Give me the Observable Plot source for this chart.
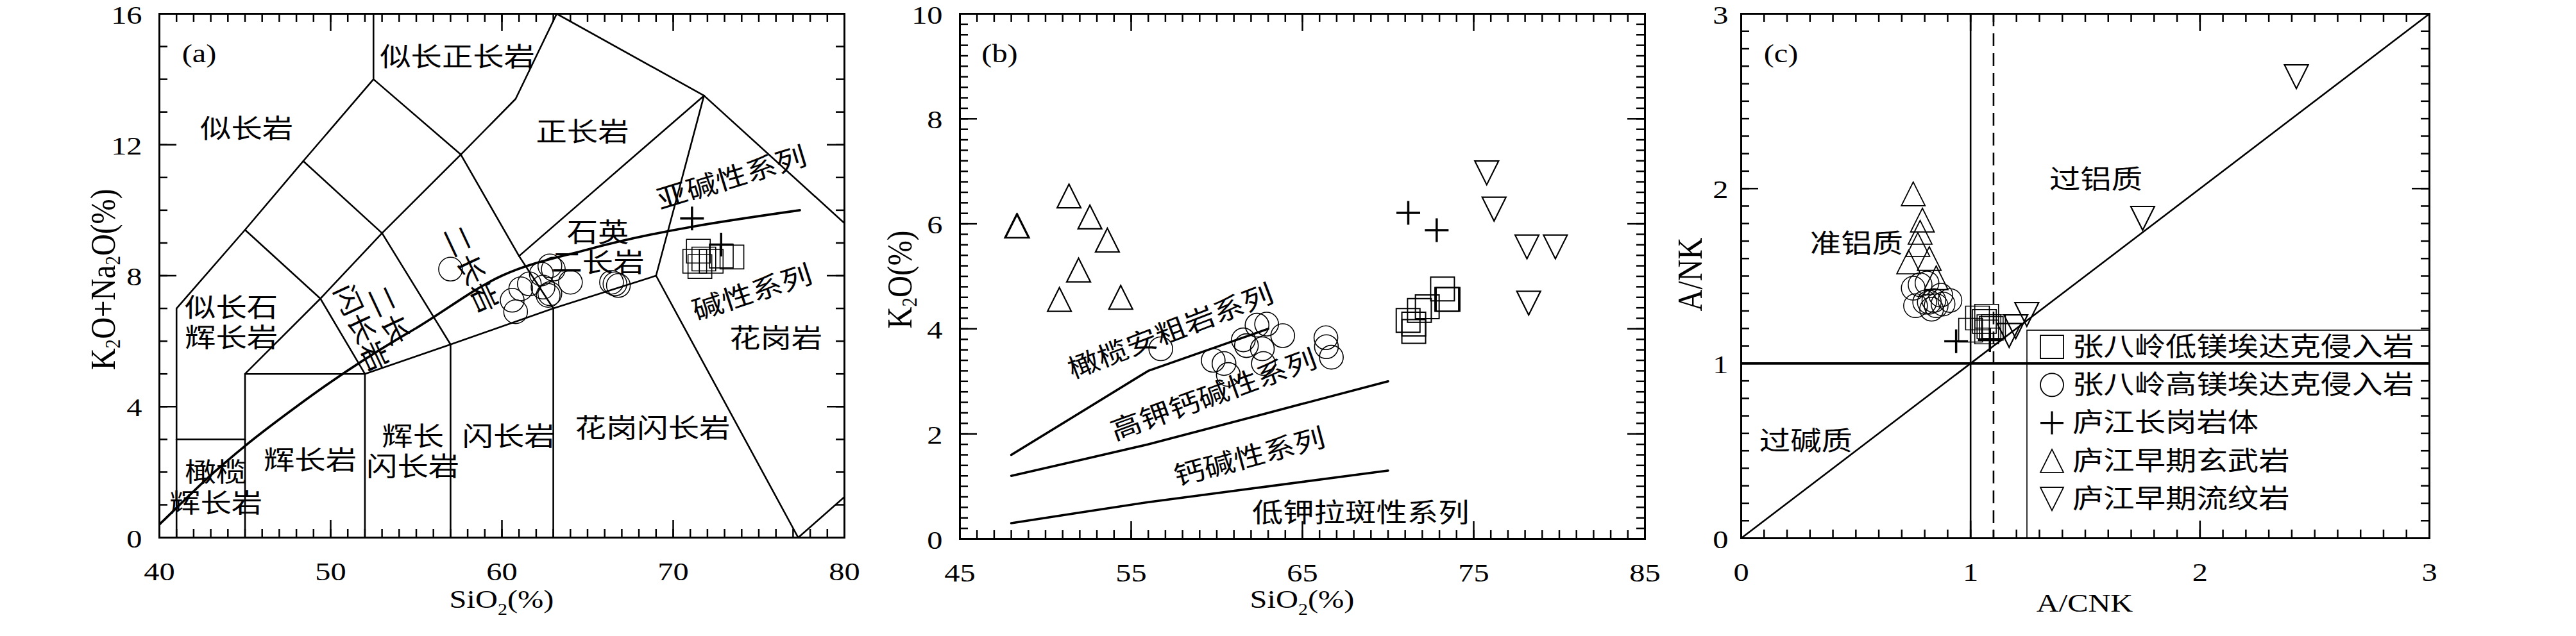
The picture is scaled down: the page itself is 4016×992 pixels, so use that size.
<!DOCTYPE html>
<html><head><meta charset="utf-8">
<script src="https://cdn.jsdelivr.net/npm/d3@7"></script>
<script src="https://cdn.jsdelivr.net/npm/@observablehq/plot@0.6"></script>
<style>
body{margin:0;background:#fff;}
#wrap{position:relative;width:4016px;height:992px;overflow:hidden;background:#fff;}
</style></head><body><div id="wrap"></div>
<script>
// ================= DATA =================
// ---- Panel (a): TAS (Middlemost 1994) ----
const tasLowMg = [[71.47,8.75],[71.26,8.44],[71.56,8.28],[71.79,8.51],[72.22,8.44],[72.81,8.60],[73.43,8.57]];
const tasHighMg = [[57.0,8.2],[60.6,7.25],[60.8,6.9],[61.1,7.6],[61.6,7.75],[62.3,8.05],[62.4,7.65],[62.7,7.4],[62.8,8.3],[63.0,8.2],[64.0,7.8],[66.4,7.8],[66.6,7.75],[66.8,7.7],[62.8,7.45]];
const tasChanggang = [[71.1,9.75],[72.8,8.95]];
const tasBoundaries = [
  [[41,0],[41,7],[45,9.4],[48.4,11.5],[52.5,14],[52.5,16]],
  [[41,3],[45,3]],
  [[45,0],[45,5],[52,5],[57,5.9],[63,7],[69,8],[71.8,13.5]],
  [[52,0],[52,5]],
  [[57,0],[57,5.9]],
  [[63,0],[63,7]],
  [[45,5],[49.4,7.3],[53,9.3],[57.6,11.7],[60.8,13.4],[63.2,16]],
  [[45,9.4],[49.4,7.3],[52,5]],
  [[48.4,11.5],[53,9.3],[57,5.9]],
  [[52.5,14],[57.6,11.7],[61,8.6],[63,7]],
  [[61,8.6],[71.8,13.5]],
  [[69,8],[77.3,0],[87.5,4.7]],
  [[63.2,16],[71.8,13.5],[85.9,6.8]]
];
const ibSiO2 = [39.2,40,43.2,45,48,50,53.7,55,60,65,77.4];
const ibAlk  = [0,0.4,2,2.8,4,4.75,6,6.4,8,8.8,10];
const tasNames = ["似长岩","似长正长岩","正长岩","石英\n二长岩","二长岩","二长\n闪长岩","似长石\n辉长岩","辉长岩","辉长\n闪长岩","闪长岩","花岗闪长岩","花岗岩","橄榄\n辉长岩","亚碱性系列","碱性系列"];
const tasNameX = [45.1,57.4,64.7,65.6,58.2,52.6,44.2,48.8,54.8,60.4,68.8,76.0,43.3,73.4,74.6];
const tasNameY = [12.5,14.7,12.4,8.88,8.2,6.6,6.58,2.39,2.64,3.11,3.37,6.1,1.54,11.0,7.5];
const tasNameRot = [0,0,0,0,65,65,0,0,0,0,0,0,0,-17,-18];
const tasXLabels = [40,50,60,70,80];
const tasYLabels = [0,4,8,12,16];

// ---- Panel (b): K2O vs SiO2 ----
const kLowMg = [[71.17,4.16],[71.5,4.09],[71.5,3.95],[71.83,4.35],[72.29,4.42],[73.18,4.76],[73.43,4.56],[73.5,4.56]];
const kHighMg = [[56.73,3.62],[59.79,3.40],[60.42,3.34],[60.67,3.13],[61.73,3.68],[62.35,4.07],[62.91,4.09],[62.66,3.62],[63.85,3.87],[62.72,3.34],[66.37,3.83],[66.4,3.66],[66.69,3.46],[61.55,3.79]];
const kChanggang = [[71.18,6.21],[72.84,5.88]];
const kBasalt = [[48.31,5.96],[48.36,5.96],[51.37,6.53],[52.59,6.13],[53.61,5.69],[51.93,5.12],[50.81,4.56],[54.39,4.6]];
const kRhyolite = [[75.76,6.97],[76.19,6.28],[78.11,5.56],[79.77,5.56],[78.21,4.49]];
const kShoshonite = [[48,1.6],[52,2.4],[56,3.2],[63,4.0]];
const kHighK = [[48,1.2],[52,1.5],[56,1.8],[63,2.4],[70,3.0]];
const kLowK = [[48,0.3],[52,0.5],[56,0.7],[63,1.0],[70,1.3]];
const kNames = ["橄榄安粗岩系列","高钾钙碱性系列","钙碱性系列","低钾拉斑性系列"];
const kNameX = [57.3,59.8,61.9,68.4];
const kNameY = [3.96,2.75,1.57,0.51];
const kNameRot = [-21,-20,-15,0];
const kXLabels = [45,55,65,75,85];
const kYLabels = [0,2,4,6,8,10];

// ---- Panel (c): A/NK vs A/CNK ----
const aLowMg = [[1.0,1.19],[1.03,1.26],[1.06,1.24],[1.07,1.27],[1.08,1.21],[1.09,1.2],[1.1,1.21],[1.07,1.18]];
const aHighMg = [[0.75,1.43],[0.78,1.45],[0.81,1.46],[0.76,1.33],[0.80,1.35],[0.82,1.35],[0.83,1.31],[0.85,1.33],[0.87,1.39],[0.88,1.34],[0.91,1.36],[0.84,1.36]];
const aChanggang = [[0.937,1.127],[1.084,1.133]];
const aBasalt = [[0.75,1.97],[0.79,1.82],[0.78,1.75],[0.77,1.68],[0.73,1.58],[0.82,1.60],[0.85,1.49]];
const aRhyolite = [[2.42,2.64],[1.75,1.83],[1.245,1.28],[1.197,1.21],[1.168,1.16]];
const aDiagonal = [[0,0],[3,3]];
const aNames = ["过铝质","准铝质","过碱质"];
const aNameX = [1.546,0.503,0.282];
const aNameY = [2.056,1.69,0.56];
const aXLabels = [0,1,2,3];
const aYLabels = [0,1,2,3];
const legendNames = ["张八岭低镁埃达克侵入岩","张八岭高镁埃达克侵入岩","庐江长岗岩体","庐江早期玄武岩","庐江早期流纹岩"];

// ================= RENDER =================
const H = 992, SX = 1.18;
const FONT = "'Liberation Serif','Times New Roman','Noto Sans CJK SC',serif";
const rad = s => Math.sqrt(s / Math.PI);
const sym = {
  square: {draw(c, s){ const r = rad(s); c.rect(-r, -r, 2*r, 2*r); }},
  up: {draw(c, s){ const r = rad(s); c.moveTo(0, -r); c.lineTo(r, r); c.lineTo(-r, r); c.closePath(); }},
  down: {draw(c, s){ const r = rad(s); c.moveTo(-r, -r); c.lineTo(r, -r); c.lineTo(0, r); c.closePath(); }},
  plus: {draw(c, s){ const r = rad(s); c.moveTo(-r, 0); c.lineTo(r, 0); c.moveTo(0, -r); c.lineTo(0, r); }},
  circle: {draw(c, s){ const r = rad(s); c.moveTo(r, 0); c.arc(0, 0, r, 0, 2*Math.PI); }}
};
const R = 18.5;
const xy = {x: d => d[0], y: d => d[1]};
const dots = (data, s, sw) => Plot.dot(data, {...xy, r: R, symbol: s, stroke: "black", fill: "none", strokeWidth: sw});
const polyline = (data, sw, extra = {}) => Plot.line(data, {...xy, stroke: "black", strokeWidth: sw, clip: true, ...extra});

function panel(cfg) {
  const {left, width, margin: [mt, mr, mb, ml], xDomain, yDomain, xMinor, xMajor, yMinor, yMajor, xLabels, yLabels, yPad, marks} = cfg;
  const pw = width - ml - mr, ph = H - mt - mb;
  const tk = {stroke: "black", strokeWidth: 2.5};
  const tMin = 13, tMaj = 27;
  const fmt = d => String(d);
  const ticks = [
    Plot.tickX(xMinor, {x: d => d, insetTop: ph - tMin, ...tk}),
    Plot.tickX(xMinor, {x: d => d, insetBottom: ph - tMin, ...tk}),
    Plot.tickX(xMajor, {x: d => d, insetTop: ph - tMaj, ...tk}),
    Plot.tickX(xMajor, {x: d => d, insetBottom: ph - tMaj, ...tk}),
    Plot.tickY(yMinor, {y: d => d, insetRight: pw - tMin, ...tk}),
    Plot.tickY(yMinor, {y: d => d, insetLeft: pw - tMin, ...tk}),
    Plot.tickY(yMajor, {y: d => d, insetRight: pw - tMaj, ...tk}),
    Plot.tickY(yMajor, {y: d => d, insetLeft: pw - tMaj, ...tk}),
    Plot.axisX(xLabels, {anchor: "bottom", tickSize: 0, tickPadding: 37, label: null, fontSize: 41, tickFormat: fmt}),
    Plot.axisY(yLabels, {anchor: "left", tickSize: 0, tickPadding: yPad, label: null, fontSize: 41, tickFormat: fmt, dy: 2})
  ];
  const svg = Plot.plot({
    width, height: H, marginTop: mt, marginRight: mr, marginBottom: mb, marginLeft: ml,
    x: {domain: xDomain, label: null}, y: {domain: yDomain, label: null},
    style: {position: "absolute", left: left + "px", top: "0px", overflow: "visible", fontFamily: FONT, fontSize: "41px", background: "transparent", color: "black", maxWidth: "none"},
    marks: [...marks, ...ticks, Plot.frame({stroke: "black", strokeWidth: 3})]
  });
  // horizontal stretch of all text (the reference's glyphs are wide)
  svg.querySelectorAll("text").forEach(t => {
    t.setAttribute("transform", (t.getAttribute("transform") || "") + ` scale(${SX},1)`);
  });
  document.getElementById("wrap").appendChild(svg);
  return svg;
}

function title(svg, {x, y, rotate = 0, parts, size = 41, sx = SX, sy = 1, baseline = null}) {
  const t = d3.select(svg).append("text")
    .attr("transform", `translate(${x},${y}) rotate(${rotate}) scale(${sx},${sy})`)
    .attr("text-anchor", "middle").attr("font-family", FONT).attr("font-size", size).attr("fill", "black");
  if (baseline) t.attr("dominant-baseline", baseline);
  let low = false;
  for (const [s, sub] of parts) {
    const ts = t.append("tspan").text(s);
    if (sub) { ts.attr("font-size", size * 0.62); if (!low) { ts.attr("dy", size * 0.28); low = true; } }
    else if (low) { ts.attr("dy", -size * 0.28); low = false; }
  }
}

const tag = (s) => Plot.text([s], {frameAnchor: "top-left", dx: 62, dy: 62, text: d => d, fontSize: 41, textAnchor: "middle", lineAnchor: "middle"});
const labels = (names, X, Y, Rot) => Plot.text(names, {x: (d, i) => X[i], y: (d, i) => Y[i], text: d => d, rotate: Rot ? (d, i) => Rot[i] : 0, fontSize: 41, lineHeight: 1.15, textAnchor: "middle", lineAnchor: "middle", fill: "black"});

// ---- Panel (a)
const svgA = panel({
  left: 0, width: 1380, margin: [21, 64, 154, 248],
  xDomain: [40, 80], yDomain: [0, 16],
  xMinor: d3.range(41, 80), xMajor: [50, 60, 70],
  yMinor: d3.range(1, 16), yMajor: [4, 8, 12],
  xLabels: tasXLabels, yLabels: tasYLabels, yPad: 27,
  marks: [
    ...tasBoundaries.map(b => polyline(b, 2.6)),
    Plot.line(ibSiO2.map((s, i) => [s, ibAlk[i]]), {...xy, stroke: "black", strokeWidth: 3.6, curve: "monotone-x", clip: true}),
    labels(tasNames, tasNameX, tasNameY, tasNameRot),
    tag("(a)"),
    dots(tasHighMg, sym.circle, 1.5),
    dots(tasLowMg, sym.square, 1.6),
    dots(tasChanggang, sym.plus, 3.5)
  ]
});
title(svgA, {x: 782, y: 948, parts: [["SiO", 0], ["2", 1], ["(%)", 0]]});
title(svgA, {x: 160, y: 436, rotate: -90, sx: 1, sy: SX, size: 47, baseline: "central", parts: [["K", 0], ["2", 1], ["O+Na", 0], ["2", 1], ["O(%)", 0]]});

// ---- Panel (b)
const svgB = panel({
  left: 1380, width: 1240, margin: [21, 56, 152, 116],
  xDomain: [45, 85], yDomain: [0, 10],
  xMinor: d3.range(46, 85), xMajor: [55, 65, 75],
  yMinor: d3.range(1, 50).map(i => i / 5), yMajor: [2, 4, 6, 8],
  xLabels: kXLabels, yLabels: kYLabels, yPad: 27,
  marks: [
    polyline(kShoshonite, 3.6), polyline(kHighK, 3.6), polyline(kLowK, 3.6),
    labels(kNames, kNameX, kNameY, kNameRot),
    tag("(b)"),
    dots(kHighMg, sym.circle, 1.6),
    dots(kLowMg, sym.square, 2),
    dots(kChanggang, sym.plus, 3.5),
    dots(kBasalt, sym.up, 2.2),
    dots(kRhyolite, sym.down, 2.2)
  ]
});
title(svgB, {x: 650, y: 948, parts: [["SiO", 0], ["2", 1], ["(%)", 0]]});
title(svgB, {x: 22, y: 436, rotate: -90, sx: 1, sy: SX, size: 47, baseline: "central", parts: [["K", 0], ["2", 1], ["O(%)", 0]]});

// ---- Panel (c)
const svgC = panel({
  left: 2620, width: 1396, margin: [21, 229, 153, 94],
  xDomain: [0, 3], yDomain: [0, 3],
  xMinor: d3.range(1, 30).map(i => i / 10), xMajor: [1, 2],
  yMinor: d3.range(1, 30).map(i => i / 10), yMajor: [1, 2],
  xLabels: aXLabels, yLabels: aYLabels, yPad: 20,
  marks: [
    polyline(aDiagonal, 2.6),
    Plot.ruleX([1], {stroke: "black", strokeWidth: 2.6}),
    Plot.ruleX([1.1], {stroke: "black", strokeWidth: 2.6, strokeDasharray: "20,11"}),
    Plot.ruleY([1], {stroke: "black", strokeWidth: 3.6}),
    labels(aNames, aNameX, aNameY, null),
    tag("(c)"),
    dots(aHighMg, sym.circle, 1.5),
    dots(aLowMg, sym.square, 1.6),
    dots(aChanggang, sym.plus, 3.5),
    dots(aBasalt, sym.up, 1.8),
    dots(aRhyolite, sym.down, 2.2)
  ]
});
title(svgC, {x: 630, y: 954, parts: [["A/CNK", 0]]});
title(svgC, {x: 14, y: 428, rotate: -90, sx: 1, sy: SX, size: 47, baseline: "central", parts: [["A/NK", 0]]});

// legend (inside panel c, lower right)
{
  const g = d3.select(svgC).append("g").attr("text-anchor", "start");
  const bx = 540, by = 515, bw = 1396 - 229 - bx, bh = H - 153 - by;
  g.append("rect").attr("x", bx).attr("y", by).attr("width", bw).attr("height", bh)
    .attr("fill", "none").attr("stroke", "black").attr("stroke-width", 1.6);
  const shapes = [sym.square, sym.circle, sym.plus, sym.up, sym.down];
  const sws = [1.8, 1.8, 3.2, 1.8, 1.8];
  legendNames.forEach((name, i) => {
    const cy = 541 + i * 59.3;
    g.append("path").attr("d", d3.symbol().type(shapes[i]).size(18 * 18 * Math.PI)())
      .attr("transform", `translate(579,${cy})`).attr("fill", "none").attr("stroke", "black").attr("stroke-width", sws[i]);
    g.append("text").attr("transform", `translate(611,${cy}) scale(${SX},1)`)
      .attr("text-anchor", "start")
      .attr("dominant-baseline", "central").attr("font-family", FONT).attr("font-size", 41).attr("fill", "black").text(name);
  });
}
</script></body></html>
